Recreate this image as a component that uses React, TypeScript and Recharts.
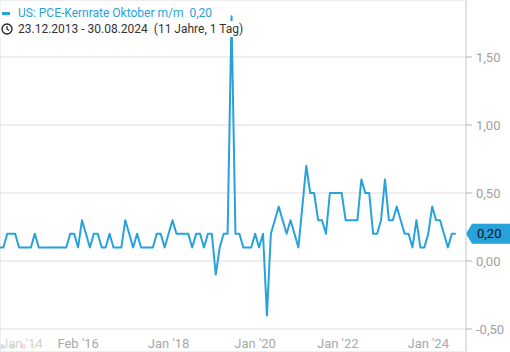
import * as React from "react";
import {
  LineChart,
  Line,
  XAxis,
  YAxis,
  CartesianGrid,
  ReferenceLine,
} from "recharts";

// monthly m/m values (index = data point)
const values = [
  0.1, 0.1, 0.2, 0.2, 0.2, 0.1, 0.1, 0.1, 0.1, 0.2,
  0.1, 0.1, 0.1, 0.1, 0.1, 0.1, 0.1, 0.1, 0.2, 0.2,
  0.1, 0.3, 0.2, 0.1, 0.2, 0.2, 0.1, 0.1, 0.2, 0.1,
  0.1, 0.1, 0.3, 0.2, 0.1, 0.2, 0.1, 0.1, 0.1, 0.1,
  0.2, 0.2, 0.1, 0.2, 0.3, 0.2, 0.2, 0.2, 0.2, 0.1,
  0.2, 0.2, 0.1, 0.2, 0.2, -0.1, 0.1, 0.2, 0.2, 1.8,
  0.2, 0.2, 0.1, 0.1, 0.1, 0.2, 0.1, 0.2, -0.4, 0.2,
  0.3, 0.4, 0.3, 0.2, 0.3, 0.2, 0.1, 0.4, 0.7, 0.5,
  0.5, 0.3, 0.3, 0.2, 0.5, 0.5, 0.5, 0.5, 0.3, 0.3,
  0.3, 0.3, 0.6, 0.5, 0.5, 0.2, 0.2, 0.3, 0.6, 0.3,
  0.3, 0.4, 0.3, 0.2, 0.2, 0.1, 0.3, 0.1, 0.1, 0.2,
  0.4, 0.3, 0.3, 0.2, 0.1, 0.2, 0.2,
];

const tickIdx = [20, 43, 65, 86, 109];
const tickLabels = ["Feb '16", "Jan '18", "Jan '20", "Jan '22", "Jan '24"];
const firstIdx = 5;
const firstLabel = "Jan '14";
const yTicks = [-0.5, 0, 0.5, 1, 1.5];

const title = "US: PCE-Kernrate Oktober m/m";
const lastText = "0,20";
const range = "23.12.2013 - 30.08.2024";
const span = "(11 Jahre, 1 Tag)";

const BLUE = "#27a2db";
const FONT = "Roboto, 'Noto Sans', sans-serif";

const data = values.map((v, i) => ({ i, v }));
const fmt = (v: number) => v.toFixed(2).replace(".", ",");

const Badge = (props: any) => {
  const vb = props.viewBox;
  const x0 = vb.x + vb.width;
  const y = vb.y;
  return (
    <g>
      <polygon
        points={`${x0},${y} ${x0 + 6},${y - 10} 510,${y - 10} 510,${y + 10} ${x0 + 6},${y + 10}`}
        fill={BLUE}
      />
      <text x={x0 + 11} y={y + 4.5} fill="#111" fontSize={13} fontFamily={FONT}>
        {lastText}
      </text>
    </g>
  );
};

// first label sits at the left edge, keep it inside the picture
const FirstLabel = (props: any) => {
  const vb = props.viewBox;
  return (
    <text x={Math.max(vb.x - 19.5, 1)} y={vb.y + vb.height - 4} fill="#d2d2d2" fontSize={13} fontFamily={FONT}>
      {firstLabel}
    </text>
  );
};

const Clock = () => (
  <svg width={12} height={12} viewBox="0 0 12 12" style={{ position: "absolute", left: 1, top: 2 }}>
    <circle cx={6} cy={6} r={5} fill="none" stroke="#222" strokeWidth={1.3} />
    <path d="M6 3 V6 L8 7.5" fill="none" stroke="#222" strokeWidth={1.2} />
  </svg>
);

const xLabel = (text: string, fill: string) => ({
  value: text,
  position: "insideBottom" as const,
  offset: 4,
  fill,
  fontSize: 13,
  fontFamily: FONT,
});

export default function App() {
  return (
    <div style={{ position: "absolute", left: 0, top: 0, width: 510, height: 352, background: "#fff", fontFamily: FONT }}>
      <svg width={40} height={8} style={{ position: "absolute", left: 0, top: 343 }}>
        <circle cx={2} cy={3.5} r={2.8} fill="#dfe7f7" />
        <circle cx={12.7} cy={3.5} r={2.8} fill="#ddefe4" />
        <circle cx={23.3} cy={3.5} r={2.8} fill="#f8dde3" />
        <circle cx={34.3} cy={3.5} r={2.8} fill="#faf0d8" />
      </svg>

      <div style={{ position: "absolute", left: 0, top: 0 }}>
        <LineChart width={510} height={352} data={data} margin={{ top: 0, right: 0, bottom: 0, left: 0 }}>
          <CartesianGrid stroke="#dedee4" strokeWidth={1} />
          <XAxis
            dataKey="i"
            type="number"
            domain={[0.15, 118.6]}
            allowDataOverflow
            ticks={tickIdx}
            height={0}
            axisLine={false}
            tickLine={false}
            tick={false}
            interval={0}
          />
          <YAxis
            orientation="right"
            width={44}
            domain={[-0.669, 1.919]}
            ticks={yTicks}
            tickFormatter={fmt}
            axisLine={{ stroke: "#d4d4dc" }}
            tickLine={{ stroke: "#b0b0b0" }}
            tickSize={6}
            tickMargin={4}
            tick={{ fill: "#a0a0a0", fontSize: 13, fontFamily: FONT, textAnchor: "start" }}
          />
          <ReferenceLine x={firstIdx} stroke="none" label={<FirstLabel />} />
          {tickIdx.map((t, k) => (
            <ReferenceLine key={t} x={t} stroke="none" label={xLabel(tickLabels[k], "#a8a8a8")} />
          ))}
          <Line
            dataKey="v"
            type="linear"
            stroke={BLUE}
            strokeWidth={2}
            strokeLinejoin="round"
            dot={false}
            activeDot={false}
            isAnimationActive={false}
          />
          <ReferenceLine
            y={values[values.length - 1]}
            stroke="none"
            ifOverflow="visible"
            label={<Badge />}
          />
        </LineChart>
      </div>

      <div style={{ position: "absolute", left: 0, top: 5, height: 16, lineHeight: "16px", background: "#fff", paddingLeft: 18, paddingRight: 2, fontSize: 12, color: BLUE, whiteSpace: "pre" }}>
        <span style={{ position: "absolute", left: 2, top: 7, width: 8, height: 3, background: BLUE }} />
        {title + "  " + lastText}
      </div>
      <div style={{ position: "absolute", left: 0, top: 21, height: 16, lineHeight: "16px", background: "#fff", paddingLeft: 18, paddingRight: 4, fontSize: 12, color: "#333", whiteSpace: "pre" }}>
        <Clock />
        {range + "  " + span}
      </div>
    </div>
  );
}
